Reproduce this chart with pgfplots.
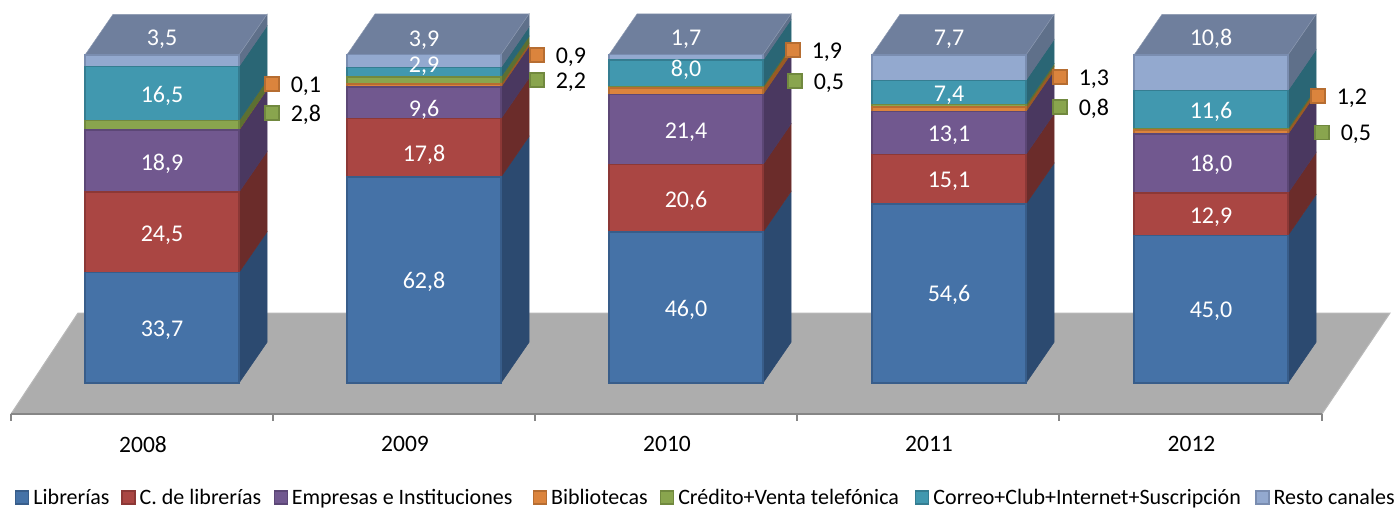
\documentclass[border=0pt]{standalone}
\usepackage{fontspec}
\setmainfont{Carlito}
\usepackage{pgfplots}
\pgfplotsset{compat=1.18}

% front colours
\definecolor{cA}{HTML}{4572A7}\definecolor{cB}{HTML}{AA4643}\definecolor{cC}{HTML}{71588F}
\definecolor{cD}{HTML}{DB843D}\definecolor{cE}{HTML}{89A54E}\definecolor{cF}{HTML}{4198AF}
\definecolor{cG}{HTML}{93A9CF}
% edges
\definecolor{eA}{HTML}{385D8A}\definecolor{eB}{HTML}{8C3836}\definecolor{eC}{HTML}{5C4776}
\definecolor{eD}{HTML}{B66D31}\definecolor{eE}{HTML}{71893F}\definecolor{eF}{HTML}{357D91}
\definecolor{eG}{HTML}{7A8DB0}
% side faces
\definecolor{sA}{HTML}{2C4A70}\definecolor{sB}{HTML}{6B2C2A}\definecolor{sC}{HTML}{4A3860}
\definecolor{sD}{HTML}{9A5A24}\definecolor{sE}{HTML}{5C7032}\definecolor{sF}{HTML}{2A6675}
\definecolor{sG}{HTML}{5F708A}
\definecolor{topface}{HTML}{6F7F9D}
\definecolor{ground}{HTML}{ADADAD}
\definecolor{axisgray}{HTML}{868686}

\pgfplotsset{
  chartbox/.style={
    scale only axis, width=1311pt, height=414pt,
    at={(11pt,94pt)}, anchor=south west,
    xmin=11, xmax=1322, ymin=-9.45, ymax=116.77,
    clip=false,
  },
}

% one side face, stacked on what is already there
\newcommand\seg[3]{%
  \pgfmathsetmacro\ya{\cum}\pgfmathsetmacro\yb{\cum+#2}%
  \pgfmathsetmacro\yc{\ya+12.4}\pgfmathsetmacro\yd{\yb+12.4}%
  \pgfmathsetmacro\xb{#1+28}%
  \edef\tmp{\noexpand\addplot[forget plot,fill=#3,draw=#3,line width=0.5pt]
    coordinates {(#1,\ya)(\xb,\yc)(\xb,\yd)(#1,\yb)} -- cycle;}\tmp
  \global\let\cum\yb}
% all side faces and the top of one column: right edge, then the seven values
\newcommand\sides[8]{%
  \gdef\cum{0}%
  \seg{#1}{#2}{sA}\seg{#1}{#3}{sB}\seg{#1}{#4}{sC}\seg{#1}{#5}{sD}%
  \seg{#1}{#6}{sE}\seg{#1}{#7}{sF}\seg{#1}{#8}{sG}%
  \pgfmathsetmacro\xa{#1-154}\pgfmathsetmacro\xb{#1+28}\pgfmathsetmacro\xc{#1-126}%
  \pgfmathsetmacro\yt{\cum+12.4}%
  \edef\tmp{\noexpand\addplot[forget plot,fill=topface,draw=topface!80!white,line width=0.5pt]
    coordinates {(\xa,\cum)(\xc,\yt)(\xb,\yt)(#1,\cum)} -- cycle;}\tmp}

% legend text in a box as wide as the gap to the next swatch
\newcommand\legbox[2]{\makebox[#1pt][l]{\hspace{2pt}#2}}

\begin{document}
\begin{tikzpicture}[x=1pt,y=1pt]
\path[use as bounding box] (0,0) rectangle (1399,508);

% floor, axis line, years, side and top faces
\begin{axis}[
  chartbox,
  axis on top,
  axis x line=bottom, axis y line=none,
  axis line style={-,axisgray,line width=2pt},
  xtick={11,273,535,797,1059,1322},
  xticklabels={2008,2009,2010,2011,2012},
  x tick label as interval,
  tick align=outside, major tick length=7pt,
  x tick style={axisgray,line width=1.2pt},
  xticklabel style={font=\fontsize{23.5}{24}\selectfont,yshift=-12pt,xshift=1pt},
]
  \addplot[forget plot,fill=ground,draw=ground!85!white,line width=1pt]
    coordinates {(11,-9.45)(78,21.34)(1390,21.34)(1322,-9.45)} -- cycle;
  \sides{239}{33.7}{24.5}{18.9}{0.1}{2.8}{16.5}{3.5}
  \sides{501}{62.8}{17.8}{9.6}{0.9}{2.2}{2.9}{3.9}
  \sides{763}{46.0}{20.6}{21.4}{1.9}{0.5}{8.0}{1.7}
  \sides{1026}{54.6}{15.1}{13.1}{1.3}{0.8}{7.4}{7.7}
  \sides{1288}{45.0}{12.9}{18.0}{1.2}{0.5}{11.6}{10.8}
\end{axis}

% front faces
\begin{axis}[
  chartbox, hide axis,
  ybar stacked, bar width=154pt,
  legend columns=7,
  legend style={
    draw=none, fill=none, inner sep=0pt,
    at={(0.0031,-0.2015)}, anchor=west,
    font=\fontsize{22}{23}\selectfont,
    /tikz/every even column/.append style={column sep=0pt},
  },
  legend cell align=left,
  legend image code/.code={\draw[#1,line width=1.2pt,bar shift=0pt] (0pt,-6.5pt) rectangle (13pt,6.5pt);},
]
  \addplot[fill=cA,draw=eA,line width=1.5pt] coordinates {(162,33.7)(424,62.8)(686,46.0)(949,54.6)(1211,45.0)};
  \addlegendentry{\legbox{88}{Librerías}}
  \addplot[fill=cB,draw=eB,line width=1.5pt] coordinates {(162,24.5)(424,17.8)(686,20.6)(949,15.1)(1211,12.9)};
  \addlegendentry{\legbox{134}{C. de librerías}}
  \addplot[fill=cC,draw=eC,line width=1.5pt] coordinates {(162,18.9)(424,9.6)(686,21.4)(949,13.1)(1211,18.0)};
  \addlegendentry{\legbox{241}{Empresas e Instituciones}}
  \addplot[fill=cD,draw=eD,line width=1.5pt] coordinates {(162,0.1)(424,0.9)(686,1.9)(949,1.3)(1211,1.2)};
  \addlegendentry{\legbox{109}{Bibliotecas}}
  \addplot[fill=cE,draw=eE,line width=1.5pt] coordinates {(162,2.8)(424,2.2)(686,0.5)(949,0.8)(1211,0.5)};
  \addlegendentry{\legbox{237}{Crédito+Venta telefónica}}
  \addplot[fill=cF,draw=eF,line width=1.5pt] coordinates {(162,16.5)(424,2.9)(686,8.0)(949,7.4)(1211,11.6)};
  \addlegendentry{\legbox{322}{Correo+Club+Internet+Suscripción}}
  \addplot[fill=cG,draw=eG,line width=1.5pt] coordinates {(162,3.5)(424,3.9)(686,1.7)(949,7.7)(1211,10.8)};
  \addlegendentry{\legbox{119}{Resto canales}}
\end{axis}

% data labels
\begin{axis}[chartbox, hide axis]
  \addplot[draw=none, mark=none, point meta=explicit symbolic,
    nodes near coords,
    nodes near coords style={text=white,anchor=center,inner sep=0pt,yshift=-2pt,font=\fontsize{24}{25}\selectfont}]
    table[x=x,y=y,meta=lab] {
    x y lab
    162 16.8 33,7
    162 45.7 24,5
    162 67.4 18,9
    162 88.1 16,5
    162 105.5 3,5
    424 31.4 62,8
    424 70.1 17,8
    424 83.8 9,6
    424 97.3 2,9
    424 105.2 3,9
    686 22.9 46,0
    686 56.1 20,6
    686 77.1 21,4
    686 96.0 8,0
    686 105.5 1,7
    949 27.4 54,6
    949 62.2 15,1
    949 76.2 13,1
    949 88.4 7,4
    949 105.5 7,7
    1211 22.6 45,0
    1211 51.2 12,9
    1211 67.1 18,0
    1211 83.2 11,6
    1211 105.5 10,8
    };
  % outside labels, with their swatches
  \addplot[only marks, mark=square*, mark size=7pt,
    mark options={fill=cD,draw=eD,line width=1.5pt},
    point meta=explicit symbolic, nodes near coords,
    nodes near coords style={text=black,anchor=west,inner sep=0pt,xshift=18pt,yshift=-2pt,font=\fontsize{24}{25}\selectfont}]
    table[x=x,y=y,meta=lab] {
    x y lab
    272 91.1 0,1
    537 100.0 0,9
    793 101.5 1,9
    1060 93.3 1,3
    1318 87.5 1,2
    };
  \addplot[only marks, mark=square*, mark size=7pt,
    mark options={fill=cE,draw=eE,line width=1.5pt},
    point meta=explicit symbolic, nodes near coords,
    nodes near coords style={text=black,anchor=west,inner sep=0pt,xshift=18pt,yshift=-2pt,font=\fontsize{24}{25}\selectfont}]
    table[x=x,y=y,meta=lab] {
    x y lab
    272 82.3 2,8
    537 92.4 2,2
    795 92.0 0,5
    1060 84.1 0,8
    1322 76.4 0,5
    };
\end{axis}
\end{tikzpicture}
\end{document}
